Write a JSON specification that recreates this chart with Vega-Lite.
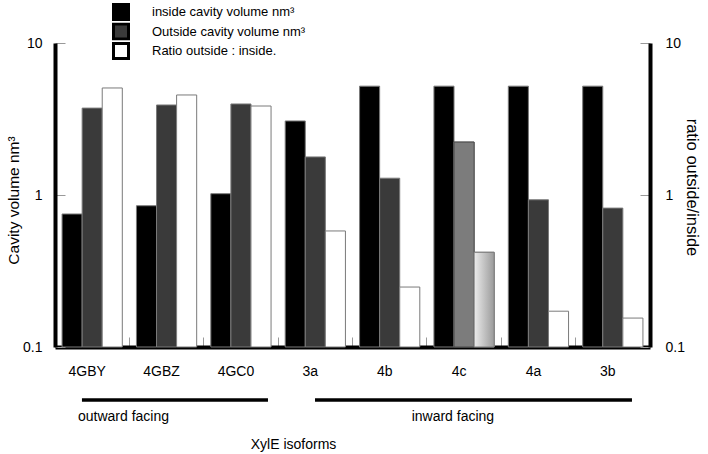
{
  "$schema": "https://vega.github.io/schema/vega-lite/v6.json",
  "autosize": "none",
  "width": 595,
  "height": 304,
  "padding": {"left": 55, "top": 43, "right": 58, "bottom": 107},
  "background": "white",
  "config": {
    "view": {"stroke": null},
    "font": "Liberation Sans",
    "axis": {"grid": false, "labelColor": "black", "titleColor": "black", "titleFontWeight": "normal"}
  },
  "datasets": {
    "vols": [
      {"group": "4GBY", "series": "inside cavity volume nm³", "value": 0.75},
      {"group": "4GBY", "series": "Outside cavity volume nm³", "value": 3.73},
      {"group": "4GBY", "series": "Ratio outside : inside.", "value": 5.06},
      {"group": "4GBZ", "series": "inside cavity volume nm³", "value": 0.85},
      {"group": "4GBZ", "series": "Outside cavity volume nm³", "value": 3.91},
      {"group": "4GBZ", "series": "Ratio outside : inside.", "value": 4.55},
      {"group": "4GC0", "series": "inside cavity volume nm³", "value": 1.02},
      {"group": "4GC0", "series": "Outside cavity volume nm³", "value": 3.97},
      {"group": "4GC0", "series": "Ratio outside : inside.", "value": 3.85},
      {"group": "3a", "series": "inside cavity volume nm³", "value": 3.07},
      {"group": "3a", "series": "Outside cavity volume nm³", "value": 1.78},
      {"group": "3a", "series": "Ratio outside : inside.", "value": 0.58},
      {"group": "4b", "series": "inside cavity volume nm³", "value": 5.2},
      {"group": "4b", "series": "Outside cavity volume nm³", "value": 1.29},
      {"group": "4b", "series": "Ratio outside : inside.", "value": 0.248},
      {"group": "4c", "series": "inside cavity volume nm³", "value": 5.2},
      {"group": "4c", "series": "Outside cavity volume nm³", "value": 2.23},
      {"group": "4c", "series": "Ratio outside : inside.", "value": 0.42},
      {"group": "4a", "series": "inside cavity volume nm³", "value": 5.2},
      {"group": "4a", "series": "Outside cavity volume nm³", "value": 0.93},
      {"group": "4a", "series": "Ratio outside : inside.", "value": 0.172},
      {"group": "3b", "series": "inside cavity volume nm³", "value": 5.2},
      {"group": "3b", "series": "Outside cavity volume nm³", "value": 0.82},
      {"group": "3b", "series": "Ratio outside : inside.", "value": 0.155}
    ]
  },
  "resolve": {"scale": {"y": "independent"}},
  "layer": [
    {
      "data": {"name": "vols"},
      "mark": {"type": "bar", "stroke": "#7a7a7a", "strokeWidth": 1},
      "encoding": {
        "x": {
          "field": "group", "type": "nominal",
          "scale": {"domain": ["4GBY", "4GBZ", "4GC0", "3a", "4b", "4c", "4a", "3b"], "paddingInner": 0.19, "paddingOuter": 0.095},
          "axis": {
            "title": "XylE isoforms", "titleFontSize": 14, "titleX": 238, "titleY": 97, "titleBaseline": "middle", "titleAlign": "center", "titleAnchor": null,
            "bandPosition": -0.117, "labelOffset": -5, "labelAngle": 0, "labelFontSize": 14, "labelPadding": 27,
            "tickSize": -10, "tickColor": "#999999", "tickWidth": 1,
            "domainColor": "black", "domainWidth": 4
          }
        },
        "xOffset": {"field": "series", "type": "nominal", "scale": {"domain": ["inside cavity volume nm³", "Outside cavity volume nm³", "Ratio outside : inside."]}},
        "y": {
          "field": "value", "type": "quantitative", "stack": null,
          "scale": {"type": "log", "domain": [0.1, 10], "nice": false},
          "axis": {
            "title": "Cavity volume nm³", "titleFontSize": 15.5, "titleX": -42, "titleY": 157, "titleAngle": -90, "titleBaseline": "middle", "titleAlign": "center",
            "values": [0.1, 1, 10], "format": "~g", "labelFontSize": 14, "labelPadding": 23,
            "tickSize": -10, "tickColor": "#999999", "tickWidth": 1,
            "domainColor": "black", "domainWidth": 4
          }
        },
        "color": {
          "field": "series", "type": "nominal",
          "scale": {"domain": ["inside cavity volume nm³", "Outside cavity volume nm³", "Ratio outside : inside."], "range": ["#000000", "#3a3a3a", "#ffffff"]},
          "legend": {
            "title": null, "orient": "none", "legendX": 57, "legendY": -40, "direction": "vertical",
            "symbolType": "square", "symbolSize": 225, "symbolOpacity": 1, "symbolStrokeColor": "black", "symbolStrokeWidth": 3,
            "labelFontSize": 13, "labelColor": "black", "labelOffset": 22, "rowPadding": 1.5, "clipHeight": 18, "labelLimit": 300,
            "encode": {"symbols": {"update": {"stroke": {"value": "black"}, "strokeWidth": {"value": 3}}}}
          }
        }
      }
    },
    {
      "data": {"name": "vols"},
      "transform": [{"filter": "datum.group === '4c' && datum.series === 'Outside cavity volume nm³'"}],
      "mark": {"type": "bar", "color": "#7c7c7c", "stroke": "#4a4a4a", "strokeWidth": 1},
      "encoding": {
        "x": {"field": "group", "type": "nominal"},
        "xOffset": {"field": "series", "type": "nominal"},
        "y": {"field": "value", "type": "quantitative", "stack": null, "scale": {"type": "log", "domain": [0.1, 10], "nice": false}, "axis": null}
      }
    },
    {
      "data": {"name": "vols"},
      "transform": [{"filter": "datum.group === '4c' && datum.series === 'Ratio outside : inside.'"}],
      "mark": {
        "type": "bar", "stroke": "#7a7a7a", "strokeWidth": 1,
        "color": {"gradient": "linear", "x1": 0, "x2": 1, "y1": 0, "y2": 0, "stops": [{"offset": 0, "color": "#ececec"}, {"offset": 1, "color": "#9a9a9a"}]}
      },
      "encoding": {
        "x": {"field": "group", "type": "nominal"},
        "xOffset": {"field": "series", "type": "nominal"},
        "y": {
          "field": "value", "type": "quantitative", "stack": null,
          "scale": {"type": "log", "domain": [0.1, 10], "nice": false},
          "axis": {
            "orient": "right", "title": "ratio outside/inside", "titleFontSize": 16.5, "titleX": 41, "titleY": 144, "titleAngle": 90, "titleBaseline": "middle", "titleAlign": "center",
            "values": [0.1, 1, 10], "format": "~g", "labelFontSize": 14, "labelPadding": 25,
            "tickSize": -10, "tickColor": "#999999", "tickWidth": 1,
            "domainColor": "black", "domainWidth": 4
          }
        }
      }
    },
    {
      "data": {"values": [{"label": "outward facing"}]},
      "mark": {"type": "rule", "color": "black", "strokeWidth": 3.5, "clip": false},
      "encoding": {
        "x": {"datum": "4GBY", "type": "nominal", "bandPosition": 0.33},
        "x2": {"datum": "4GC0", "bandPosition": 0.949},
        "y": {"datum": 0.0448, "type": "quantitative", "scale": {"type": "log", "domain": [0.1, 10], "nice": false}, "axis": null}
      }
    },
    {
      "data": {"values": [{"label": "inward facing"}]},
      "mark": {"type": "rule", "color": "black", "strokeWidth": 3.5, "clip": false},
      "encoding": {
        "x": {"datum": "3a", "type": "nominal", "bandPosition": 0.495},
        "x2": {"datum": "3b", "bandPosition": 0.818},
        "y": {"datum": 0.0448, "type": "quantitative", "scale": {"type": "log", "domain": [0.1, 10], "nice": false}, "axis": null}
      }
    },
    {
      "data": {"values": [{"label": "outward facing"}]},
      "mark": {"type": "text", "align": "left", "baseline": "middle", "fontSize": 14, "color": "black"},
      "encoding": {
        "text": {"field": "label"},
        "x": {"datum": "4GBY", "type": "nominal", "bandPosition": 0.264},
        "y": {"datum": 0.0346, "type": "quantitative", "scale": {"type": "log", "domain": [0.1, 10], "nice": false}, "axis": null}
      }
    },
    {
      "data": {"values": [{"label": "inward facing"}]},
      "mark": {"type": "text", "align": "center", "baseline": "middle", "fontSize": 14, "color": "black"},
      "encoding": {
        "text": {"field": "label"},
        "x": {"datum": "4c", "type": "nominal", "bandPosition": 0.315},
        "y": {"datum": 0.0346, "type": "quantitative", "scale": {"type": "log", "domain": [0.1, 10], "nice": false}, "axis": null}
      }
    }
  ]
}
